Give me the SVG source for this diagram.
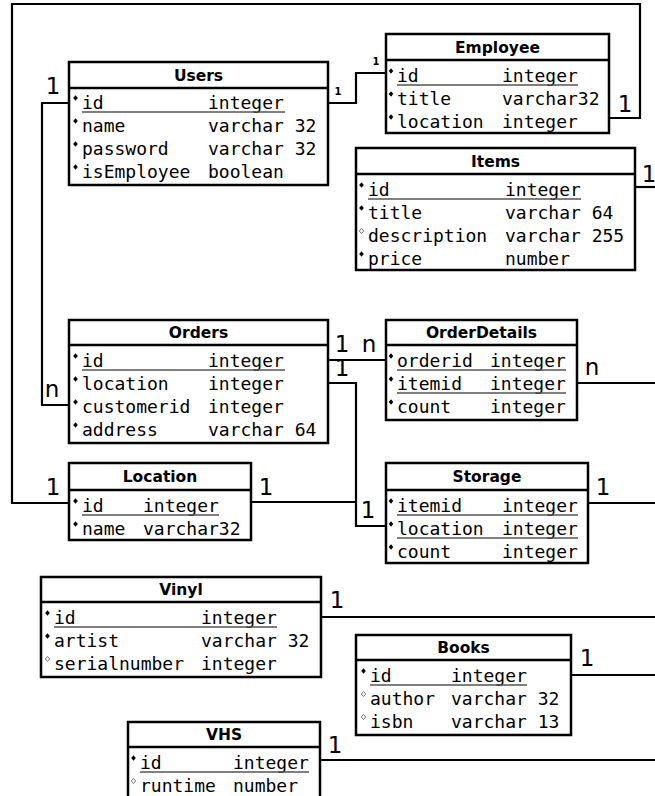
<svg xmlns="http://www.w3.org/2000/svg" xmlns:xlink="http://www.w3.org/1999/xlink" width="655" height="796" viewBox="0 0 655 796">
<style>
.box{fill:#fff;stroke:#000;stroke-width:2.5}
.sep{stroke:#000;stroke-width:2.5}
.title{font-family:"DejaVu Sans",sans-serif;font-weight:bold;font-size:15.5px;text-anchor:middle;fill:#000}
.row{font-family:"DejaVu Sans Mono",monospace;font-size:18px;fill:#000}
.ul{stroke:#555;stroke-width:1.5}
.conn{fill:none;stroke:#000;stroke-width:2.2}
.card{font-family:"DejaVu Sans",sans-serif;font-size:23px;text-anchor:middle;fill:#000}
.cards{font-family:"DejaVu Sans",sans-serif;font-size:10px;font-weight:bold;text-anchor:middle;fill:#000}
</style>
<defs>
<polygon id="req" points="0,-2.8 2.3,0 0,2.8 -2.3,0" fill="#000"/>
<polygon id="opt" points="0,-2.6 2.2,0 0,2.6 -2.2,0" fill="#fff" stroke="#777" stroke-width="1"/>
</defs>
<rect width="655" height="796" fill="#fff"/>
<g id="connectors">
<path class="conn" d="M69,103 H42 V405 H69"/>
<path class="conn" d="M69,503 H12 V4 H640 V118 H609"/>
<path class="conn" d="M328,103 H356 V73 H386"/>
<path class="conn" d="M635,187 H655"/>
<path class="conn" d="M328,360 H386"/>
<path class="conn" d="M328,383 H356 V526 H386"/>
<path class="conn" d="M251,502 H356"/>
<path class="conn" d="M577,383 H655"/>
<path class="conn" d="M588,503 H655"/>
<path class="conn" d="M321,617 H655"/>
<path class="conn" d="M571,675 H655"/>
<path class="conn" d="M320,760 H655"/>
</g>
<g id="labels">
<text class="card" x="53" y="94">1</text>
<text class="card" x="52" y="397">n</text>
<text class="cards" x="338" y="95">1</text>
<text class="cards" x="376" y="65">1</text>
<text class="card" x="625" y="112">1</text>
<text class="card" x="649" y="182">1</text>
<text class="card" x="342" y="352">1</text>
<text class="card" x="369" y="352">n</text>
<text class="card" x="342" y="376">1</text>
<text class="card" x="592" y="375">n</text>
<text class="card" x="53" y="495">1</text>
<text class="card" x="266" y="495">1</text>
<text class="card" x="368" y="518">1</text>
<text class="card" x="603" y="495">1</text>
<text class="card" x="337" y="608">1</text>
<text class="card" x="587" y="666">1</text>
<text class="card" x="335" y="753">1</text>
</g>
<g id="users">
<rect class="box" x="69" y="62" width="259" height="123"/>
<line class="sep" x1="69" y1="88" x2="328" y2="88"/>
<text class="title" x="198.5" y="80.5">Users</text>
<use href="#req" x="75.5" y="98"/><text class="row" x="82" y="109">id</text><text class="row" x="208" y="109">integer</text>
<line class="ul" x1="82" y1="112" x2="285" y2="112"/>
<use href="#req" x="75.5" y="121"/><text class="row" x="82" y="132">name</text><text class="row" x="208" y="132">varchar 32</text>
<use href="#req" x="75.5" y="144"/><text class="row" x="82" y="155">password</text><text class="row" x="208" y="155">varchar 32</text>
<use href="#req" x="75.5" y="167"/><text class="row" x="82" y="178">isEmployee</text><text class="row" x="208" y="178">boolean</text>
</g>
<g id="employee">
<rect class="box" x="386" y="34" width="223" height="99"/>
<line class="sep" x1="386" y1="60" x2="609" y2="60"/>
<text class="title" x="497.5" y="52.5">Employee</text>
<use href="#req" x="391" y="71"/><text class="row" x="397" y="82">id</text><text class="row" x="502" y="82">integer</text>
<line class="ul" x1="397" y1="85" x2="578" y2="85"/>
<use href="#req" x="391" y="94"/><text class="row" x="397" y="105">title</text><text class="row" x="502" y="105">varchar32</text>
<use href="#req" x="391" y="117"/><text class="row" x="397" y="128">location</text><text class="row" x="502" y="128">integer</text>
</g>
<g id="items">
<rect class="box" x="356" y="148" width="279" height="122"/>
<line class="sep" x1="356" y1="174" x2="635" y2="174"/>
<text class="title" x="495.5" y="166.5">Items</text>
<use href="#req" x="361.5" y="185"/><text class="row" x="368" y="196">id</text><text class="row" x="505" y="196">integer</text>
<line class="ul" x1="368" y1="199" x2="581" y2="199"/>
<use href="#req" x="361.5" y="208"/><text class="row" x="368" y="219">title</text><text class="row" x="505" y="219">varchar 64</text>
<use href="#opt" x="361.5" y="231"/><text class="row" x="368" y="242">description</text><text class="row" x="505" y="242">varchar 255</text>
<use href="#req" x="361.5" y="254"/><text class="row" x="368" y="265">price</text><text class="row" x="505" y="265">number</text>
</g>
<g id="orders">
<rect class="box" x="69" y="320" width="259" height="123"/>
<line class="sep" x1="69" y1="345" x2="328" y2="345"/>
<text class="title" x="198.5" y="338">Orders</text>
<use href="#req" x="75.5" y="356"/><text class="row" x="82" y="367">id</text><text class="row" x="208" y="367">integer</text>
<line class="ul" x1="82" y1="370" x2="285" y2="370"/>
<use href="#req" x="75.5" y="379"/><text class="row" x="82" y="390">location</text><text class="row" x="208" y="390">integer</text>
<use href="#req" x="75.5" y="402"/><text class="row" x="82" y="413">customerid</text><text class="row" x="208" y="413">integer</text>
<use href="#req" x="75.5" y="425"/><text class="row" x="82" y="436">address</text><text class="row" x="208" y="436">varchar 64</text>
</g>
<g id="orderdetails">
<rect class="box" x="386" y="320" width="191" height="100"/>
<line class="sep" x1="386" y1="345" x2="577" y2="345"/>
<text class="title" x="481.5" y="338">OrderDetails</text>
<use href="#req" x="391" y="356"/><text class="row" x="397" y="367">orderid</text><text class="row" x="490" y="367">integer</text>
<line class="ul" x1="397" y1="370" x2="566" y2="370"/>
<use href="#req" x="391" y="379"/><text class="row" x="397" y="390">itemid</text><text class="row" x="490" y="390">integer</text>
<line class="ul" x1="397" y1="393" x2="566" y2="393"/>
<use href="#req" x="391" y="402"/><text class="row" x="397" y="413">count</text><text class="row" x="490" y="413">integer</text>
</g>
<g id="location">
<rect class="box" x="69" y="463" width="182" height="77"/>
<line class="sep" x1="69" y1="490" x2="251" y2="490"/>
<text class="title" x="160" y="482">Location</text>
<use href="#req" x="75.5" y="501"/><text class="row" x="82" y="512">id</text><text class="row" x="143" y="512">integer</text>
<line class="ul" x1="82" y1="515" x2="219" y2="515"/>
<use href="#req" x="75.5" y="524"/><text class="row" x="82" y="535">name</text><text class="row" x="143" y="535">varchar32</text>
</g>
<g id="storage">
<rect class="box" x="386" y="463" width="202" height="100"/>
<line class="sep" x1="386" y1="490" x2="588" y2="490"/>
<text class="title" x="487" y="482">Storage</text>
<use href="#req" x="391" y="501"/><text class="row" x="397" y="512">itemid</text><text class="row" x="502" y="512">integer</text>
<line class="ul" x1="397" y1="515" x2="578" y2="515"/>
<use href="#req" x="391" y="524"/><text class="row" x="397" y="535">location</text><text class="row" x="502" y="535">integer</text>
<line class="ul" x1="397" y1="538" x2="578" y2="538"/>
<use href="#req" x="391" y="547"/><text class="row" x="397" y="558">count</text><text class="row" x="502" y="558">integer</text>
</g>
<g id="vinyl">
<rect class="box" x="41" y="577" width="280" height="100"/>
<line class="sep" x1="41" y1="602" x2="321" y2="602"/>
<text class="title" x="181" y="595">Vinyl</text>
<use href="#req" x="47.5" y="613"/><text class="row" x="54" y="624">id</text><text class="row" x="201" y="624">integer</text>
<line class="ul" x1="54" y1="627" x2="277" y2="627"/>
<use href="#req" x="47.5" y="636"/><text class="row" x="54" y="647">artist</text><text class="row" x="201" y="647">varchar 32</text>
<use href="#opt" x="47.5" y="659"/><text class="row" x="54" y="670">serialnumber</text><text class="row" x="201" y="670">integer</text>
</g>
<g id="books">
<rect class="box" x="356" y="635" width="215" height="100"/>
<line class="sep" x1="356" y1="660" x2="571" y2="660"/>
<text class="title" x="463.5" y="653">Books</text>
<use href="#req" x="363.5" y="671"/><text class="row" x="370" y="682">id</text><text class="row" x="451" y="682">integer</text>
<line class="ul" x1="370" y1="685" x2="527" y2="685"/>
<use href="#opt" x="363.5" y="694"/><text class="row" x="370" y="705">author</text><text class="row" x="451" y="705">varchar 32</text>
<use href="#opt" x="363.5" y="717"/><text class="row" x="370" y="728">isbn</text><text class="row" x="451" y="728">varchar 13</text>
</g>
<g id="vhs">
<rect class="box" x="128" y="722" width="192" height="80"/>
<line class="sep" x1="128" y1="747" x2="320" y2="747"/>
<text class="title" x="224" y="740">VHS</text>
<use href="#req" x="133.5" y="758"/><text class="row" x="140" y="769">id</text><text class="row" x="233" y="769">integer</text>
<line class="ul" x1="140" y1="772" x2="309" y2="772"/>
<use href="#opt" x="133.5" y="781"/><text class="row" x="140" y="792">runtime</text><text class="row" x="233" y="792">number</text>
</g>
</svg>
